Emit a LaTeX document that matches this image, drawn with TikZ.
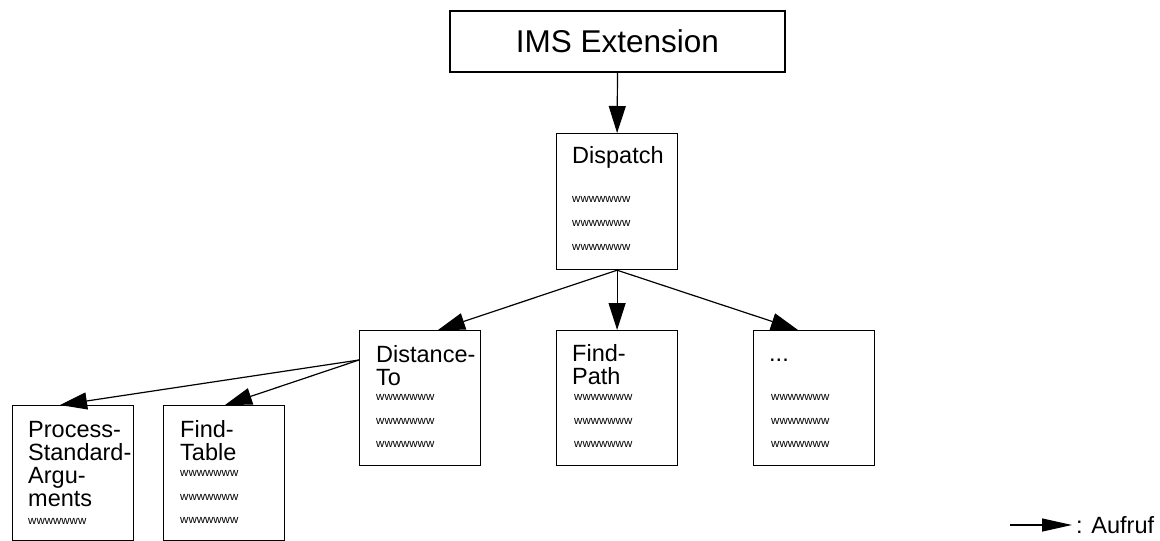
\documentclass[tikz,border=0pt]{standalone}
\usepackage{fontspec}
\setmainfont{Liberation Sans}
\usetikzlibrary{arrows.meta}

\tikzset{
  box/.style={draw, line width=1.2pt, inner sep=0pt, anchor=north west,
              minimum width=121pt, minimum height=135pt},
  big/.style={font=\fontsize{31.5}{36}\selectfont},
  lbl/.style={font=\fontsize{23.5}{23}\selectfont, anchor=base west, inner sep=0pt},
  sml/.style={font=\fontsize{11.5}{13}\selectfont, anchor=base west, inner sep=0pt},
  call/.style={line width=1.2pt, -{Triangle[length=27pt, width=17pt]}},
  legcall/.style={line width=1.2pt, -{Triangle[length=30pt, width=13pt]}}
}

\begin{document}
\begin{tikzpicture}[x=1pt, y=-1pt]
\useasboundingbox (0,0) rectangle (1160,541);

% top-level module
\node[draw, line width=1.2pt, inner sep=0pt, minimum width=335pt, minimum height=61pt,
      big] (ims) at (617.5,41.5) {IMS Extension};

% dispatcher
\node[box, minimum height=136pt] (disp) at (556,133) {};
\node[lbl] (dispT) at (572,163) {Dispatch};
\node[sml] (dispW1) at (572,202.5) {wwwwwww};
\node[sml] (dispW2) at (572,226.5) {wwwwwww};
\node[sml] (dispW3) at (572,250.5) {wwwwwww};

% second level
\node[box] (dist) at (359,330) {};
\node[lbl] (distT1) at (376,362) {Distance-};
\node[lbl] (distT2) at (376,385) {To};
\node[sml] (distW1) at (376,400.5) {wwwwwww};
\node[sml] (distW2) at (376,424) {wwwwwww};
\node[sml] (distW3) at (376,447) {wwwwwww};

\node[box] (path) at (556,330) {};
\node[lbl] (pathT1) at (572,361) {Find-};
\node[lbl] (pathT2) at (572,384) {Path};
\node[sml] (pathW1) at (574,400.5) {wwwwwww};
\node[sml] (pathW2) at (574,424) {wwwwwww};
\node[sml] (pathW3) at (574,447) {wwwwwww};

\node[box] (more) at (753,330) {};
\node[lbl] (moreT) at (769,361) {...};
\node[sml] (moreW1) at (771,400.5) {wwwwwww};
\node[sml] (moreW2) at (771,424) {wwwwwww};
\node[sml] (moreW3) at (771,447) {wwwwwww};

% third level
\node[box] (proc) at (12,405) {};
\node[lbl] (procT1) at (28,437) {Process-};
\node[lbl] (procT2) at (28,460) {Standard-};
\node[lbl] (procT3) at (28,483) {Argu-};
\node[lbl] (procT4) at (28,506) {ments};
\node[sml] (procW1) at (28,524.5) {wwwwwww};

\node[box] (ftab) at (163,405) {};
\node[lbl] (ftabT1) at (180,437) {Find-};
\node[lbl] (ftabT2) at (180,460) {Table};
\node[sml] (ftabW1) at (180,476) {wwwwwww};
\node[sml] (ftabW2) at (180,500) {wwwwwww};
\node[sml] (ftabW3) at (180,523.5) {wwwwwww};

% calls
\draw[call] (ims.south) -- (disp.north);
\draw[call] (disp.south) -- ([xshift=79pt]dist.north west);
\draw[call] (disp.south) -- (path.north);
\draw[call] (disp.south) -- ([xshift=45pt]more.north west);
\draw[call] ([yshift=-30pt]dist.north west) -- ([xshift=48pt]proc.north west);
\draw[call] ([yshift=-30pt]dist.north west) -- ([xshift=62pt]ftab.north west);

% legend
\coordinate (legA) at (1010,525);
\coordinate (legB) at (1072,525);
\draw[legcall] (legA) -- (legB);
\node[lbl] (legT) at (1076,533) {: Aufruf};
\end{tikzpicture}
\end{document}
